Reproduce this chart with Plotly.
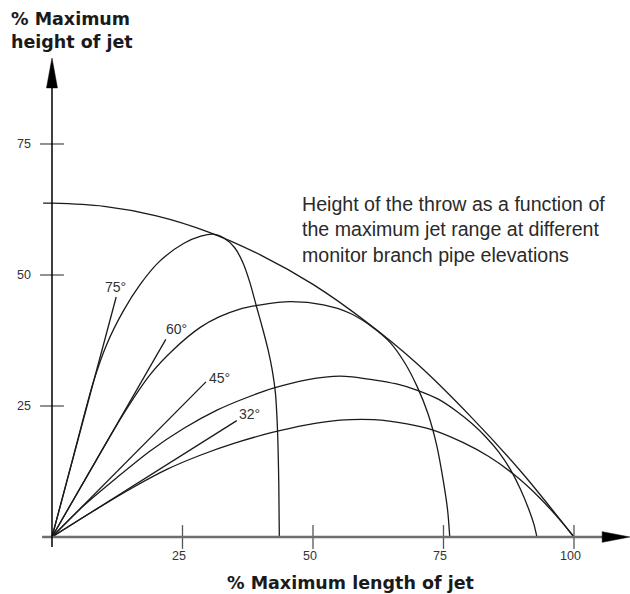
"""Jet throw height vs. length chart"""
import plotly.graph_objects as go

# envelope of all trajectories (% max length, % max height)
envelope_x = [-1.7, 0, 10, 20, 30, 40, 50, 60, 70, 80, 90, 100]
envelope_y = [63.7, 63.7, 63.1, 61.3, 58.2, 53.8, 48.2, 41.2, 33.0, 23.2, 12.3, 0]

# trajectories per elevation angle
traj_75_x = [0, 4, 7.9, 10.5, 13.7, 16.9, 20.5, 25.2, 28.5, 30.9, 33, 35, 36.6, 37.9, 39.2, 40.4, 41.4, 42.2, 42.8, 43.2, 43.45, 43.55]
traj_75_y = [0, 15, 29.5, 36.8, 43.2, 48.2, 52.5, 56, 57.4, 57.8, 57.0, 55.2, 52.3, 48.6, 43.9, 39.6, 35.7, 31.8, 27.5, 20.5, 10, 0]

traj_60_x = [0, 7, 13.7, 18.8, 23.2, 28.4, 32, 36, 40, 45.6, 52, 57.1, 61.6, 64.8, 67.6, 70, 72, 73.7, 75, 75.8, 76.2]
traj_60_y = [0, 12.1, 23.5, 31, 35.7, 40, 42, 43.5, 44.3, 44.9, 44.3, 42.7, 39.9, 37.1, 33.2, 28.6, 23.6, 17.5, 10.5, 5, 0]

traj_45_x = [0, 6, 12.4, 18.8, 25.2, 31.6, 36, 42.4, 48.8, 55.2, 61.6, 66, 70, 74, 77.5, 80.5, 83.2, 85.6, 87.8, 89.7, 91.3, 92.3, 92.9]
traj_45_y = [0, 5.9, 11.3, 16.4, 20.7, 24.2, 26.1, 28.4, 30, 30.7, 30, 29.2, 28, 26.3, 24, 21.6, 19.0, 16.2, 12.9, 9.2, 5.4, 2.5, 0]

traj_32_x = [0, 8, 15.6, 22, 28.4, 35, 42, 48.8, 55.2, 61.6, 68, 73, 78.8, 83.6, 88.4, 93.5, 97, 100]
traj_32_y = [0, 5.0, 9.5, 12.9, 15.6, 17.9, 19.9, 21.4, 22.3, 22.4, 21.6, 20.4, 18.0, 15.4, 12.0, 7.4, 3.6, 0]

# start tangents (outlet direction), end points
angle_labels = ["75°", "60°", "45°", "32°"]
tangent_end_x = [12.3, 21.8, 29.5, 35.4]
tangent_end_y = [45.8, 37.7, 29.6, 22.2]

x_ticks = [25, 50, 75, 100]
y_ticks = [25, 50, 75]

LINE = dict(color="#1a1a1a", width=1.3)
FONT = "Liberation Sans, Arial, sans-serif"
BOLD = "DejaVu Sans, sans-serif"

fig = go.Figure()

curves = [
    (envelope_x, envelope_y),
    (traj_75_x, traj_75_y),
    (traj_60_x, traj_60_y),
    (traj_45_x, traj_45_y),
    (traj_32_x, traj_32_y),
]
for cx, cy in curves:
    fig.add_trace(go.Scatter(
        x=cx, y=cy, mode="lines",
        line=dict(shape="spline", smoothing=0.8, **LINE),
        hoverinfo="skip", showlegend=False
    ))

for ex, ey in zip(tangent_end_x, tangent_end_y):
    fig.add_trace(go.Scatter(
        x=[0, ex], y=[0, ey], mode="lines", line=LINE,
        hoverinfo="skip", showlegend=False
    ))

# tick marks crossing the axes
fig.add_trace(go.Scatter(
    x=x_ticks, y=[0] * len(x_ticks), mode="markers",
    marker=dict(symbol="line-ns", size=17, line=dict(color="#555555", width=1.3)),
    hoverinfo="skip", showlegend=False
))
fig.add_trace(go.Scatter(
    x=[0] * len(y_ticks), y=y_ticks, mode="markers",
    marker=dict(symbol="line-ew", size=17, line=dict(color="#555555", width=1.3)),
    hoverinfo="skip", showlegend=False
))

# axis lines and arrow heads
fig.add_shape(type="line", x0=-1.9, y0=0, x1=105.6, y1=0,
              line=dict(color="#6e6e6e", width=2.5))
fig.add_shape(type="path", path="M 105.4,-1.02 L 110.7,0 L 105.4,1.02 Z",
              fillcolor="black", line=dict(color="black", width=0.5))
fig.add_shape(type="line", x0=0, y0=-1.9, x1=0, y1=86,
              line=dict(color="black", width=1.5))
fig.add_shape(type="path", path="M -1.05,85.7 L 0,91.4 L 1.05,85.7 Z",
              fillcolor="black", line=dict(color="black", width=0.5))

# tick labels
for v in x_ticks:
    fig.add_annotation(x=v - 0.6, y=-3.6, text=str(v), showarrow=False,
                       font=dict(family=FONT, size=12.5, color="#333333"))
for v in y_ticks:
    fig.add_annotation(x=-5.3, y=v, text=str(v), showarrow=False,
                       font=dict(family=FONT, size=12.5, color="#333333"))

# angle labels
label_pos = [(12.2, 47.8), (23.9, 39.7), (32.0, 30.4), (37.9, 23.5)]
for txt, (lx, ly) in zip(angle_labels, label_pos):
    fig.add_annotation(x=lx, y=ly, text=txt, showarrow=False,
                       font=dict(family=FONT, size=14, color="#333333"))

fig.add_annotation(
    x=47.5, y=58.6, xanchor="left", yanchor="middle", align="left",
    text="Height of the throw as a function of<br>the maximum jet range at different<br>monitor branch pipe elevations",
    showarrow=False, font=dict(family=FONT, size=19.6, color="#2a2a2a")
)

# axis titles
fig.add_annotation(
    xref="paper", yref="paper", x=9 / 630, y=1 - 7 / 594,
    xanchor="left", yanchor="top", align="left",
    text="<b>% Maximum<br>height of jet</b>", showarrow=False,
    font=dict(family=BOLD, size=17.5, color="#1a1a1a")
)
fig.add_annotation(
    xref="paper", yref="paper", x=350.5 / 630, y=11 / 594,
    xanchor="center", yanchor="middle",
    text="<b>% Maximum length of jet</b>", showarrow=False,
    font=dict(family=BOLD, size=17.5, color="#1a1a1a")
)

fig.update_xaxes(range=[-9.96, 110.73], visible=False)
fig.update_yaxes(range=[-10.88, 102.48], visible=False)
fig.update_layout(
    width=630, height=594, autosize=False,
    margin=dict(l=0, r=0, t=0, b=0),
    plot_bgcolor="white", paper_bgcolor="white"
)

fig.write_html(
    "out.html",
    config={"displayModeBar": False},
    post_script="document.body.style.margin='0px';"
)
